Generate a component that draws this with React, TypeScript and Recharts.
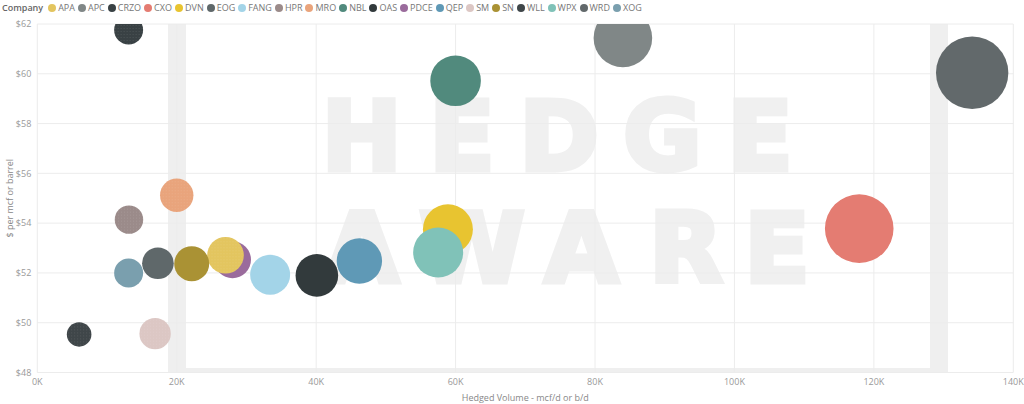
import React from "react";
import {
  CartesianGrid,
  Cell,
  Scatter,
  ScatterChart,
  XAxis,
  YAxis,
  ZAxis,
} from "recharts";

const companies = [
  "APA", "APC", "CRZO", "CXO", "DVN", "EOG", "FANG", "HPR", "MRO", "NBL",
  "OAS", "PDCE", "QEP", "SM", "SN", "WLL", "WPX", "WRD", "XOG",
];

// hedged volume, mcf/d or b/d
const hedgedVolumes = [
  27000, 84000, 13100, 117900, 58900, 17300, 33400, 13150, 20000, 60000,
  40100, 28000, 46200, 16900, 22150, 6000, 57500, 134100, 13100,
];

// $ per mcf or barrel
const prices = [
  52.71, 61.44, 61.76, 53.78, 53.75, 52.39, 51.93, 54.14, 55.12, 59.72,
  51.9, 52.53, 52.48, 49.56, 52.37, 49.53, 52.82, 60.04, 52.0,
];

// bubble size measure
const bubbleSizes = [
  335, 858, 210, 1176, 625, 250, 400, 202, 279, 640,
  454, 342, 515, 246, 306, 151, 625, 1310, 210,
];

const colors = [
  "#e3c55f", "#808787", "#394144", "#e47c72", "#e8c430", "#5f686a", "#a3d4e8",
  "#9b8b8a", "#e9a47c", "#518a7d", "#323a3c", "#9a6b9c", "#5f99b6", "#dcc7c4",
  "#aa9234", "#3f4649", "#80c2b8", "#62696b", "#7a9fae",
];

// companies drawn with the speckled texture
const textured = ["APA", "CRZO", "HPR", "MRO", "SM", "WLL"];

const xTicks = [0, 20000, 40000, 60000, 80000, 100000, 120000, 140000];
const yTicks = [48, 50, 52, 54, 56, 58, 60, 62];

const points = companies
  .map((name, i) => ({
    name,
    x: hedgedVolumes[i],
    y: prices[i],
    z: bubbleSizes[i],
    color: colors[i],
  }))
  .sort((a, b) => b.z - a.z);

const FONT = "'Open Sans', 'Noto Sans', sans-serif";

function Watermark() {
  const top = ["H", "E", "D", "G", "E"];
  const topX = [361.7, 462, 559, 662.5, 760];
  const bottom = ["A", "W", "A", "R", "E"];
  const bottomX = [362, 472, 581.5, 686, 777];
  return (
    <svg
      width={1024}
      height={404}
      style={{ position: "absolute", left: 0, top: 0 }}
    >
      <rect x={168} y={24} width={18} height={348} fill="#efefef" />
      <rect x={930} y={24} width={18} height={348} fill="#efefef" />
      <rect x={168} y={368} width={780} height={4.5} fill="#efefef" />
      <g
        fill="#f0f0f0"
        stroke="#f0f0f0"
        strokeWidth={5}
        strokeLinejoin="miter"
        fontFamily="'DejaVu Sans', sans-serif"
        fontWeight={700}
        fontSize={96}
        textAnchor="middle"
      >
        {top.map((ch, i) => (
          <text key={`t${i}`} x={topX[i]} y={169.5}>
            {ch}
          </text>
        ))}
        {bottom.map((ch, i) => (
          <text key={`b${i}`} x={bottomX[i]} y={282}>
            {ch}
          </text>
        ))}
      </g>
    </svg>
  );
}

function CompanyLegend() {
  return (
    <div
      style={{
        position: "absolute",
        left: 2,
        top: 1,
        display: "flex",
        alignItems: "center",
        fontFamily: FONT,
        fontSize: 9,
        color: "#777",
        whiteSpace: "nowrap",
        lineHeight: "14px",
      }}
    >
      <span style={{ fontWeight: 600, color: "#666", marginRight: 5 }}>Company</span>
      {companies.map((name, i) => (
        <span
          key={name}
          style={{ display: "flex", alignItems: "center", marginRight: 3 }}
        >
          <span
            style={{
              width: 8,
              height: 8,
              borderRadius: 4,
              background: colors[i],
              marginRight: 2,
            }}
          />
          {name}
        </span>
      ))}
    </div>
  );
}

export default function App() {
  return (
    <div
      style={{
        position: "absolute",
        left: 0,
        top: 0,
        width: 1024,
        height: 404,
        background: "#fff",
        overflow: "hidden",
      }}
    >
      <Watermark />
      <div style={{ position: "absolute", left: 0, top: 0 }}>
        <ScatterChart
          width={1024}
          height={404}
          margin={{ top: 24, right: 10.7, bottom: 0, left: 0 }}
        >
          <defs>
            {points
              .filter((p) => textured.includes(p.name))
              .map((p) => (
                <pattern
                  key={p.name}
                  id={`speckle-${p.name}`}
                  width={3}
                  height={3}
                  patternUnits="userSpaceOnUse"
                >
                  <rect width={3} height={3} fill={p.color} />
                  <circle cx={1.5} cy={1.5} r={0.45} fill="#ffffff" fillOpacity={0.2} />
                </pattern>
              ))}
          </defs>
          <CartesianGrid stroke="#ececec" />
          <XAxis
            type="number"
            dataKey="x"
            domain={[0, 140000]}
            ticks={xTicks}
            allowDataOverflow
            height={31.5}
            axisLine={false}
            tickLine={false}
            tickSize={0}
            tickMargin={6}
            tickFormatter={(v: number) => `${v / 1000}K`}
            tick={{ fill: "#999", fontSize: 9, fontFamily: FONT }}
            label={{
              value: "Hedged Volume - mcf/d or b/d",
              position: "insideBottom",
              offset: 3,
              fill: "#888",
              fontSize: 9,
              fontFamily: FONT,
            }}
          />
          <YAxis
            type="number"
            dataKey="y"
            domain={[48, 62]}
            ticks={yTicks}
            allowDataOverflow
            width={37.3}
            axisLine={false}
            tickLine={false}
            tickSize={0}
            tickMargin={6}
            tickFormatter={(v: number) => `$${v}`}
            tick={{ fill: "#999", fontSize: 9, fontFamily: FONT }}
            label={{
              value: "$ per mcf or barrel",
              angle: -90,
              position: "insideLeft",
              offset: 10,
              fill: "#888",
              fontSize: 9,
              fontFamily: FONT,
              style: { textAnchor: "middle" },
            }}
          />
          <ZAxis type="number" dataKey="z" domain={[0, 1400]} range={[0, 1400 * Math.PI]} />
          <Scatter data={points} isAnimationActive={false}>
            {points.map((p) => (
              <Cell
                key={p.name}
                fill={textured.includes(p.name) ? `url(#speckle-${p.name})` : p.color}
              />
            ))}
          </Scatter>
        </ScatterChart>
      </div>
      <CompanyLegend />
    </div>
  );
}
